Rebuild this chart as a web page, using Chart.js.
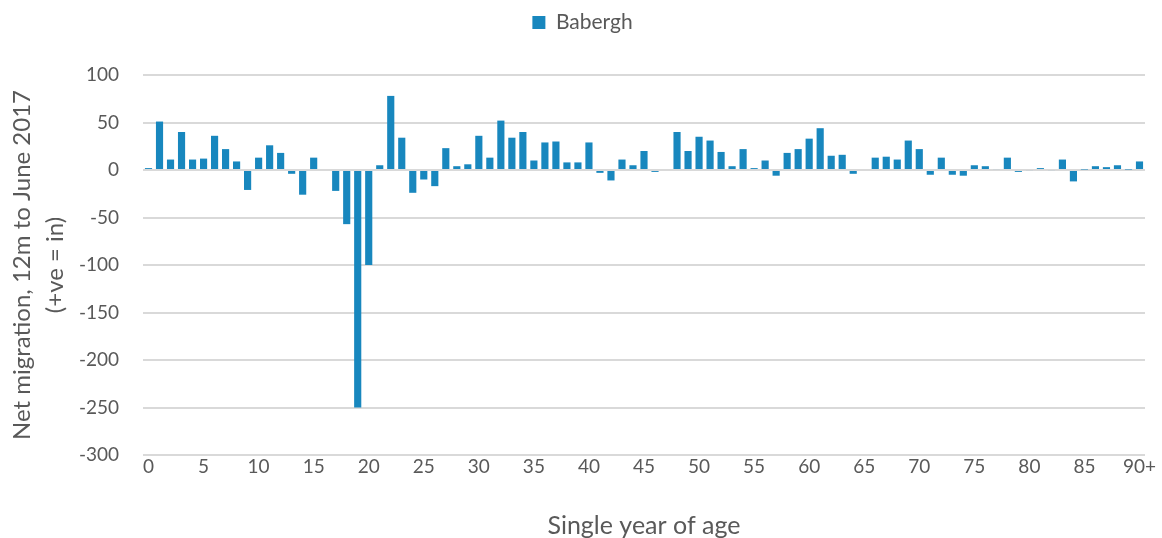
<!DOCTYPE html>
<html>
<head>
<meta charset="utf-8">
<script src="https://cdn.jsdelivr.net/npm/chart.js@4"></script>
<style>
  body { margin: 0; background: #fff; }
  #wrap { width: 1162px; height: 538px; }
</style>
</head>
<body>
<div id="wrap"><canvas id="stage"></canvas></div>
<script>
// 年齢（カテゴリ）
const ages = ['0','1','2','3','4','5','6','7','8','9','10','11','12','13','14','15','16','17','18','19',
  '20','21','22','23','24','25','26','27','28','29','30','31','32','33','34','35','36','37','38','39',
  '40','41','42','43','44','45','46','47','48','49','50','51','52','53','54','55','56','57','58','59',
  '60','61','62','63','64','65','66','67','68','69','70','71','72','73','74','75','76','77','78','79',
  '80','81','82','83','84','85','86','87','88','89','90+'];

// Babergh net migration
const babergh = [2,51,11,40,11,12,36,22,9,-21,13,26,18,-4,-26,13,0,-22,-57,-250,
  -100,5,78,34,-24,-10,-17,23,4,6,36,13,52,34,40,10,29,30,8,8,
  29,-3,-11,11,5,20,-2,0,40,20,35,31,19,4,22,2,10,-6,18,22,
  33,44,15,16,-4,0,13,14,11,31,22,-5,13,-5,-6,5,4,1,13,-2,
  -1,2,-1,11,-12,0.5,4,3,5,0.5,9];

const seriesName = 'Babergh';
const yTitle = ['Net migration, 12m to June 2017', '(+ve = in)'];
const xTitle = 'Single year of age';

const font = 'Lato, "Open Sans", sans-serif';
const grey = '#595959';

// 凡例とグラフの間にすき間を作る・凡例を少し右へ
const legendGap = {
  id: 'legendGap',
  afterInit(chart) {
    const fit = chart.legend.fit;
    chart.legend.fit = function() { fit.call(this); this.height += 32; };
  },
  afterLayout(chart) {
    chart.legend.left += 10;
    chart.legend.right += 10;
  }
};

var canvas = document.getElementById('stage');
var chart = new Chart(canvas, {
  type: 'bar',
  data: {
    labels: ages,
    datasets: [{
      label: seriesName,
      data: babergh,
      backgroundColor: '#1887BE',
      borderWidth: 0,
      categoryPercentage: 1,
      barPercentage: 0.65
    }]
  },
  plugins: [legendGap],
  options: {
    responsive: true,
    maintainAspectRatio: false,
    animation: false,
    layout: { padding: { top: 2, right: 17, left: 0, bottom: 0 } },
    plugins: {
      tooltip: { enabled: false },
      legend: {
        position: 'top',
        labels: {
          boxWidth: 13,
          boxHeight: 13,
          color: grey,
          font: { family: font, size: 21 },
          padding: 10
        }
      }
    },
    scales: {
      x: {
        grid: { display: false, drawTicks: false },
        border: { display: false },
        afterFit: function(scale) { scale.height = 83; },
        ticks: {
          autoSkip: false,
          maxRotation: 0,
          color: grey,
          font: { family: font, size: 19 },
          padding: 0,
          callback: function(val, i) {
            return (i % 5 === 0 || i === ages.length - 1) ? this.getLabelForValue(val) : '';
          }
        },
        title: {
          display: true,
          text: xTitle,
          color: grey,
          font: { family: font, size: 25, lineHeight: 1 },
          padding: { top: 0, bottom: 0 }
        }
      },
      y: {
        min: -300,
        max: 100,
        afterFit: function(scale) { scale.width = 143; },
        ticks: {
          stepSize: 50,
          color: grey,
          font: { family: font, size: 19 },
          padding: 24
        },
        grid: { color: '#d9d9d9', lineWidth: 2, drawTicks: false },
        border: { display: false },
        title: {
          display: true,
          text: yTitle,
          color: grey,
          font: { family: font, size: 24, lineHeight: 1.38 },
          padding: { top: 6, bottom: 0 }
        }
      }
    }
  }
});
</script>
</body>
</html>
